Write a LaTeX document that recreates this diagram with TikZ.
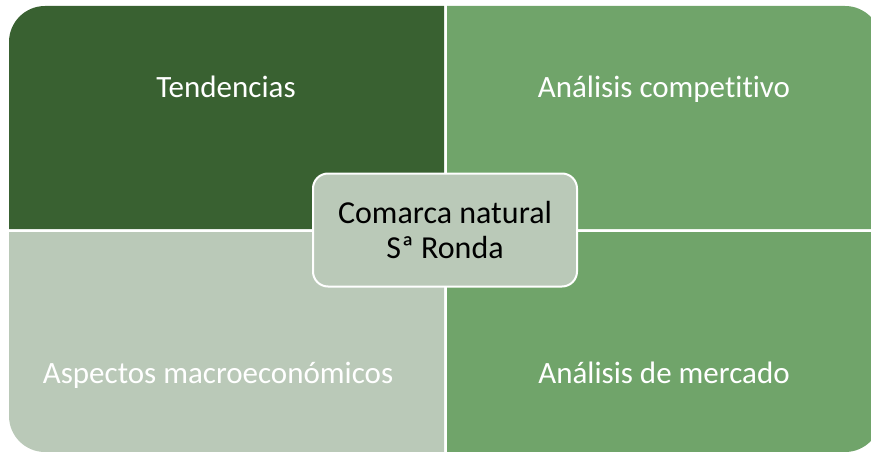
\documentclass[tikz,border=0pt]{standalone}
\usepackage{fontspec}
\setmainfont[Ligatures={NoCommon,NoContextual}]{Carlito}
\usepackage{tikz}
\usetikzlibrary{positioning}
\definecolor{darkleaf}{RGB}{57,97,49}
\definecolor{midleaf}{RGB}{112,164,106}
\definecolor{paleleaf}{RGB}{186,201,184}
\tikzstyle{every node}+=[inner sep=0pt]
\tikzstyle{label} = [white, font=\fontsize{31}{37}\selectfont, anchor=base]
\tikzstyle{hub} = [rectangle, draw=white, line width=2pt, fill=paleleaf, rounded corners=15pt, minimum width=264pt, minimum height=113pt, align=center, font=\fontsize{32}{35}\selectfont]

\begin{document}
\begin{tikzpicture}[x=1pt, y=-1pt]
            \useasboundingbox (0,0) rectangle (871,452);
            \clip (0,0) rectangle (871,452);
            % Place quadrants
            \fill [darkleaf] (9,229) [rounded corners=36pt] -- (9,6) [sharp corners] -- (444,6) -- (444,229) -- cycle;
            \fill [midleaf] (447,229) -- (447,6) [rounded corners=36pt] -- (881,6) [sharp corners] -- (881,229) -- cycle;
            \fill [paleleaf] (444,232) -- (9,232) [rounded corners=36pt] -- (9,452) [sharp corners] -- (444,452) -- cycle;
            \fill [midleaf] (447,452) -- (447,232) -- (881,232) [rounded corners=36pt] -- (881,452) [sharp corners] -- cycle;
            % Place labels
            \node [label] (tl) at (226,98) {Tendencias};
            \node [label] (tr) at (664,98) {Análisis competitivo};
            \node [label] (bl) at (218,383) {Aspectos macroeconómicos};
            \node [label] (br) at (664,383) {Análisis de mercado};
            % Place hub
            \node [hub] (hub) at (445,230) {Comarca natural\\Sª Ronda};
          \end{tikzpicture}
\end{document}
